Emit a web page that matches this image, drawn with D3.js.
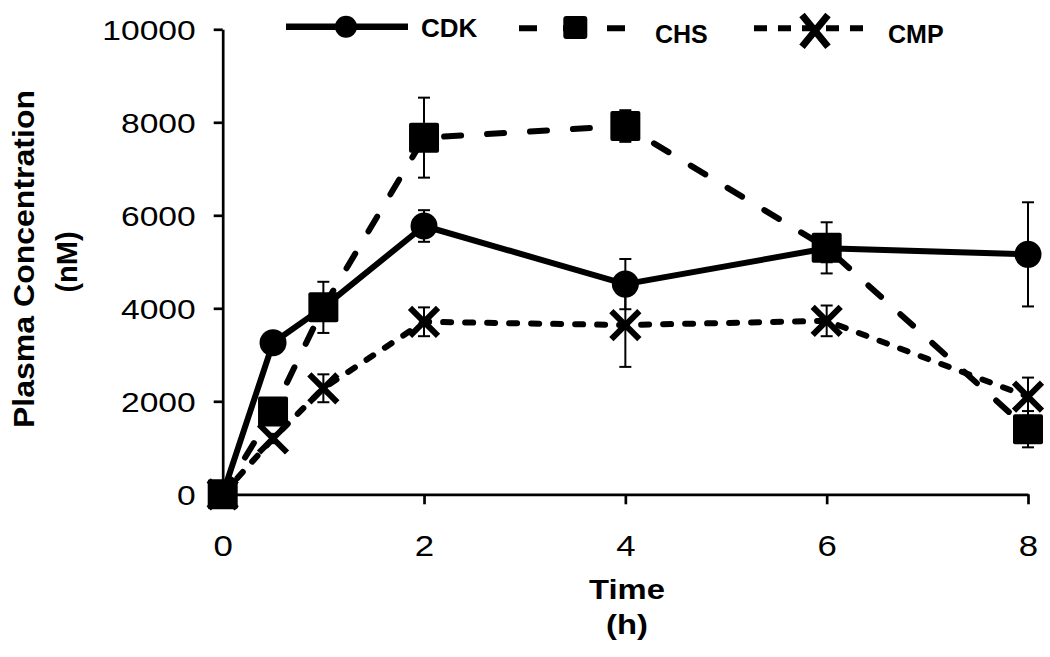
<!DOCTYPE html>
<html>
<head>
<meta charset="utf-8">
<script src="https://cdn.jsdelivr.net/npm/d3@7"></script>
<style>
  html, body { margin: 0; padding: 0; background: #fff; }
  svg { display: block; }
  text { font-family: "Liberation Sans", Arial, Helvetica, sans-serif; fill: #000; }
</style>
</head>
<body>
<svg id="chart" width="1050" height="657"></svg>
<script>
// ---- data ----
const times = [0, 0.5, 1, 2, 4, 6, 8];
const seriesNames = ["CDK", "CHS", "CMP"];
const cdkValues = [0, 3260, 4020, 5770, 4520, 5290, 5160];
const cdkErrors = [0, 150, 200, 340, 540, 300, 1120];
const chsValues = [0, 1780, 4020, 7670, 7920, 5300, 1400];
const chsErrors = [0, 150, 550, 860, 340, 550, 390];
const cmpValues = [0, 1200, 2280, 3710, 3640, 3730, 2100];
const cmpErrors = [0, 100, 300, 310, 900, 330, 410];
const xTickValues = [0, 2, 4, 6, 8];
const yTickValues = [0, 2000, 4000, 6000, 8000, 10000];
const xTitle = ["Time", "(h)"];
const yTitle = ["Plasma Concentration", "(nM)"];

const svg = d3.select("#chart");
const x = d3.scaleLinear().domain([0, 8]).range([222.7, 1028]);
const y = d3.scaleLinear().domain([0, 10000]).range([494.3, 29.3]);
const SX = 1.2; // horizontal stretch of tick labels

// ---- axes ----
const yAxis = svg.append("g").attr("transform", `translate(${x(0)},0)`)
  .call(d3.axisLeft(y).tickValues(yTickValues).tickSize(9).tickSizeOuter(0).tickFormat(d3.format("d")));
yAxis.selectAll("text").attr("x", -27 / SX).attr("dy", "0.36em")
  .attr("transform", `scale(${SX},1)`).style("font-size", "28px").attr("text-anchor", "end");

const xAxis = svg.append("g").attr("transform", `translate(0,${y(0)})`)
  .call(d3.axisBottom(x).tickValues(xTickValues).tickSize(10).tickSizeOuter(0).tickFormat(d3.format("d")));
xAxis.selectAll("text").attr("y", 62).attr("dy", 0)
  .attr("transform", `scale(${SX},1)`).style("font-size", "29px").attr("text-anchor", "middle");

[yAxis, xAxis].forEach(a => {
  a.select(".domain").attr("stroke", "#000").attr("stroke-width", 2.7);
  a.selectAll(".tick line").attr("stroke", "#000").attr("stroke-width", 2.7);
});

// ---- axis titles ----
svg.append("text").attr("transform", `translate(627,599) scale(1.17,1)`)
  .attr("text-anchor", "middle").style("font-size", "28px").style("font-weight", "bold").text(xTitle[0]);
svg.append("text").attr("transform", `translate(627,634) scale(1.17,1)`)
  .attr("text-anchor", "middle").style("font-size", "28px").style("font-weight", "bold").text(xTitle[1]);

svg.append("text").attr("transform", "translate(33.5,259) rotate(-90)")
  .attr("text-anchor", "middle").style("font-size", "29px").style("font-weight", "bold")
  .attr("textLength", 338).attr("lengthAdjust", "spacingAndGlyphs").text(yTitle[0]);
svg.append("text").attr("transform", "translate(77,262) rotate(-90)")
  .attr("text-anchor", "middle").style("font-size", "29px").style("font-weight", "bold").text(yTitle[1]);

// ---- series ----
function toPts(vals, errs) { return times.map((t, i) => ({ t, v: vals[i], e: errs[i] })); }
const series = [
  { name: seriesNames[0], pts: toPts(cdkValues, cdkErrors), dash: null, marker: "circle" },
  { name: seriesNames[1], pts: toPts(chsValues, chsErrors), dash: "17,26", marker: "square" },
  { name: seriesNames[2], pts: toPts(cmpValues, cmpErrors), dash: "8,14", marker: "x" }
];
const line = d3.line().x(d => x(d.t)).y(d => y(d.v));

function drawMarker(g, type, cx, cy, s) {
  if (type === "circle") {
    g.append("circle").attr("cx", cx).attr("cy", cy).attr("r", 13.5 * s).attr("fill", "#000");
  } else if (type === "square") {
    const w = 30 * s;
    g.append("rect").attr("x", cx - w / 2).attr("y", cy - w / 2).attr("width", w).attr("height", w)
      .attr("rx", 2).attr("fill", "#000");
  } else {
    const h = 14 * s;
    g.append("path").attr("d", `M${cx - h},${cy - h}L${cx + h},${cy + h}M${cx + h},${cy - h}L${cx - h},${cy + h}`)
      .attr("stroke", "#000").attr("stroke-width", 6).attr("fill", "none");
  }
}

series.forEach(s => {
  const g = svg.append("g");
  g.append("path").datum(s.pts).attr("d", line).attr("fill", "none").attr("stroke", "#000")
    .attr("stroke-width", 6).attr("stroke-linejoin", "round")
    .attr("stroke-linecap", s.dash ? "round" : "butt")
    .attr("stroke-dasharray", s.dash);
  // error bars
  s.pts.filter(p => p.e > 0).forEach(p => {
    const cx = x(p.t), y1 = y(p.v + p.e), y2 = y(p.v - p.e);
    g.append("line").attr("x1", cx).attr("x2", cx).attr("y1", y1).attr("y2", y2).attr("stroke", "#000").attr("stroke-width", 2);
    [y1, y2].forEach(yy => g.append("line").attr("x1", cx - 6).attr("x2", cx + 6).attr("y1", yy).attr("y2", yy)
      .attr("stroke", "#000").attr("stroke-width", 2));
  });
  s.pts.forEach(p => drawMarker(g, s.marker, x(p.t), y(p.v), 1));
});

// ---- legend ----
const lg = svg.append("g");
// CDK
lg.append("line").attr("x1", 286).attr("x2", 408).attr("y1", 26.7).attr("y2", 26.7).attr("stroke", "#000").attr("stroke-width", 6.5);
lg.append("circle").attr("cx", 346).attr("cy", 26.7).attr("r", 11).attr("fill", "#000");
lg.append("text").attr("x", 421).attr("y", 37.3).style("font-size", "26px").style("font-weight", "bold").text(seriesNames[0]);
// CHS
lg.append("line").attr("x1", 519).attr("x2", 627).attr("y1", 28.3).attr("y2", 28.3).attr("stroke", "#000")
  .attr("stroke-width", 6).attr("stroke-dasharray", "18,26");
lg.append("rect").attr("x", 563.3).attr("y", 16).attr("width", 24).attr("height", 23).attr("rx", 3).attr("fill", "#000");
lg.append("text").attr("x", 655).attr("y", 42.7).style("font-size", "25px").style("font-weight", "bold").text(seriesNames[1]);
// CMP
lg.append("line").attr("x1", 754).attr("x2", 872).attr("y1", 28.3).attr("y2", 28.3).attr("stroke", "#000")
  .attr("stroke-width", 6).attr("stroke-dasharray", "13,11");
lg.append("path").attr("d", "M802,15L828,46.7M828,15L802,46.7").attr("stroke", "#000").attr("stroke-width", 7).attr("fill", "none");
lg.append("text").attr("x", 888).attr("y", 42.7).style("font-size", "25px").style("font-weight", "bold").text(seriesNames[2]);
</script>
</body>
</html>
